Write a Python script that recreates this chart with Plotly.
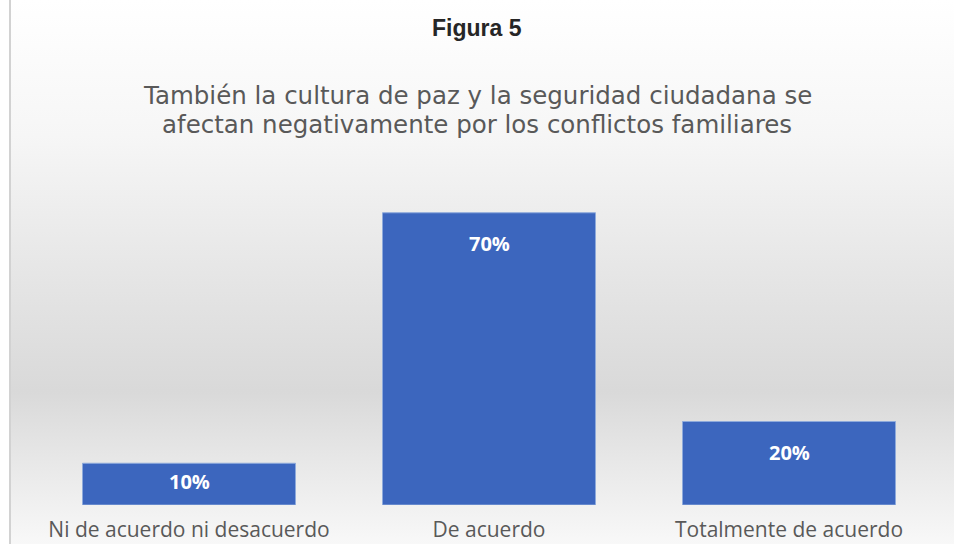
import base64
import plotly.graph_objects as go

# ---- data ----
categories = ["Ni de acuerdo ni desacuerdo", "De acuerdo", "Totalmente de acuerdo"]
values = [10, 70, 20]
value_labels = [f"{v}%" for v in values]
title_text = "Figura 5"
subtitle_lines = ["También la cultura de paz y la seguridad ciudadana se",
                  "afectan negativamente por los conflictos familiares"]

# ---- layout geometry ----
W, H = 954, 544
ML, MR, MT, MB = 39, 15, 171, 39
PW, PH = W - ML - MR, H - MT - MB
YMAX = 80

# background gradient as an SVG image
svg = f'''<svg xmlns="http://www.w3.org/2000/svg" width="{W}" height="{H}" viewBox="0 0 {W} {H}" preserveAspectRatio="none">
<defs><linearGradient id="g" x1="0" y1="0" x2="0" y2="1">
<stop offset="0" stop-color="#ffffff"/>
<stop offset="0.25" stop-color="#f6f6f6"/>
<stop offset="0.55" stop-color="#e3e3e3"/>
<stop offset="0.72" stop-color="#d9d9d9"/>
<stop offset="0.86" stop-color="#e9e9e9"/>
<stop offset="1" stop-color="#f8f8f8"/>
</linearGradient></defs>
<rect x="10" y="0" width="{W-10}" height="{H}" fill="url(#g)"/>
<rect x="9" y="0" width="2" height="{H}" fill="#d2d2d2"/>
</svg>'''
svg_uri = "data:image/svg+xml;base64," + base64.b64encode(svg.encode()).decode()

fig = go.Figure()
fig.add_trace(go.Bar(
    x=categories, y=values,
    marker=dict(color="#3C66BE", line=dict(color="#8EAADB", width=1)),
    hoverinfo="skip",
))

px_per_unit = PH / YMAX
for c, v, t in zip(categories, values, value_labels):
    h = v * px_per_unit
    shift = -min(31, h / 2 - 3)
    fig.add_annotation(x=c, y=v, text=f"<b>{t}</b>", showarrow=False,
                       yanchor="middle", yshift=shift,
                       font=dict(family="Open Sans", size=20, color="#ffffff"))

fig.add_annotation(xref="paper", yref="paper", x=(W / 2 - ML) / PW, y=(H - MB - 28) / PH,
                   text=f"<b>{title_text}</b>", showarrow=False, yanchor="middle",
                   font=dict(family="Liberation Sans", size=23, color="#262626"))
for i, line in enumerate(subtitle_lines):
    fig.add_annotation(xref="paper", yref="paper", x=(W / 2 - ML) / PW,
                       y=(H - MB - (95 + 30 * i)) / PH,
                       text=line, showarrow=False, yanchor="middle",
                       font=dict(family="DejaVu Sans", size=24.5, color="#595959"))

fig.add_layout_image(dict(
    source=svg_uri, xref="paper", yref="paper",
    x=-ML / PW, y=(H - MB) / PH, sizex=W / PW, sizey=H / PH,
    xanchor="left", yanchor="top", sizing="stretch", layer="below",
))

fig.update_layout(
    width=W, height=H,
    margin=dict(l=ML, r=MR, t=MT, b=MB, pad=0, autoexpand=False),
    paper_bgcolor="#ffffff", plot_bgcolor="rgba(0,0,0,0)",
    bargap=0.29, showlegend=False,
)
fig.update_xaxes(showgrid=False, zeroline=False, showline=False, ticks="",
                 automargin=False, ticklabelstandoff=10,
                 tickfont=dict(family="Open Sans", size=21, color="#595959"))
fig.update_yaxes(range=[0, YMAX], visible=False, automargin=False)

fig.write_html("out.html", config={"displayModeBar": False},
               post_script="document.body.style.margin='0';document.body.style.overflow='hidden';")
